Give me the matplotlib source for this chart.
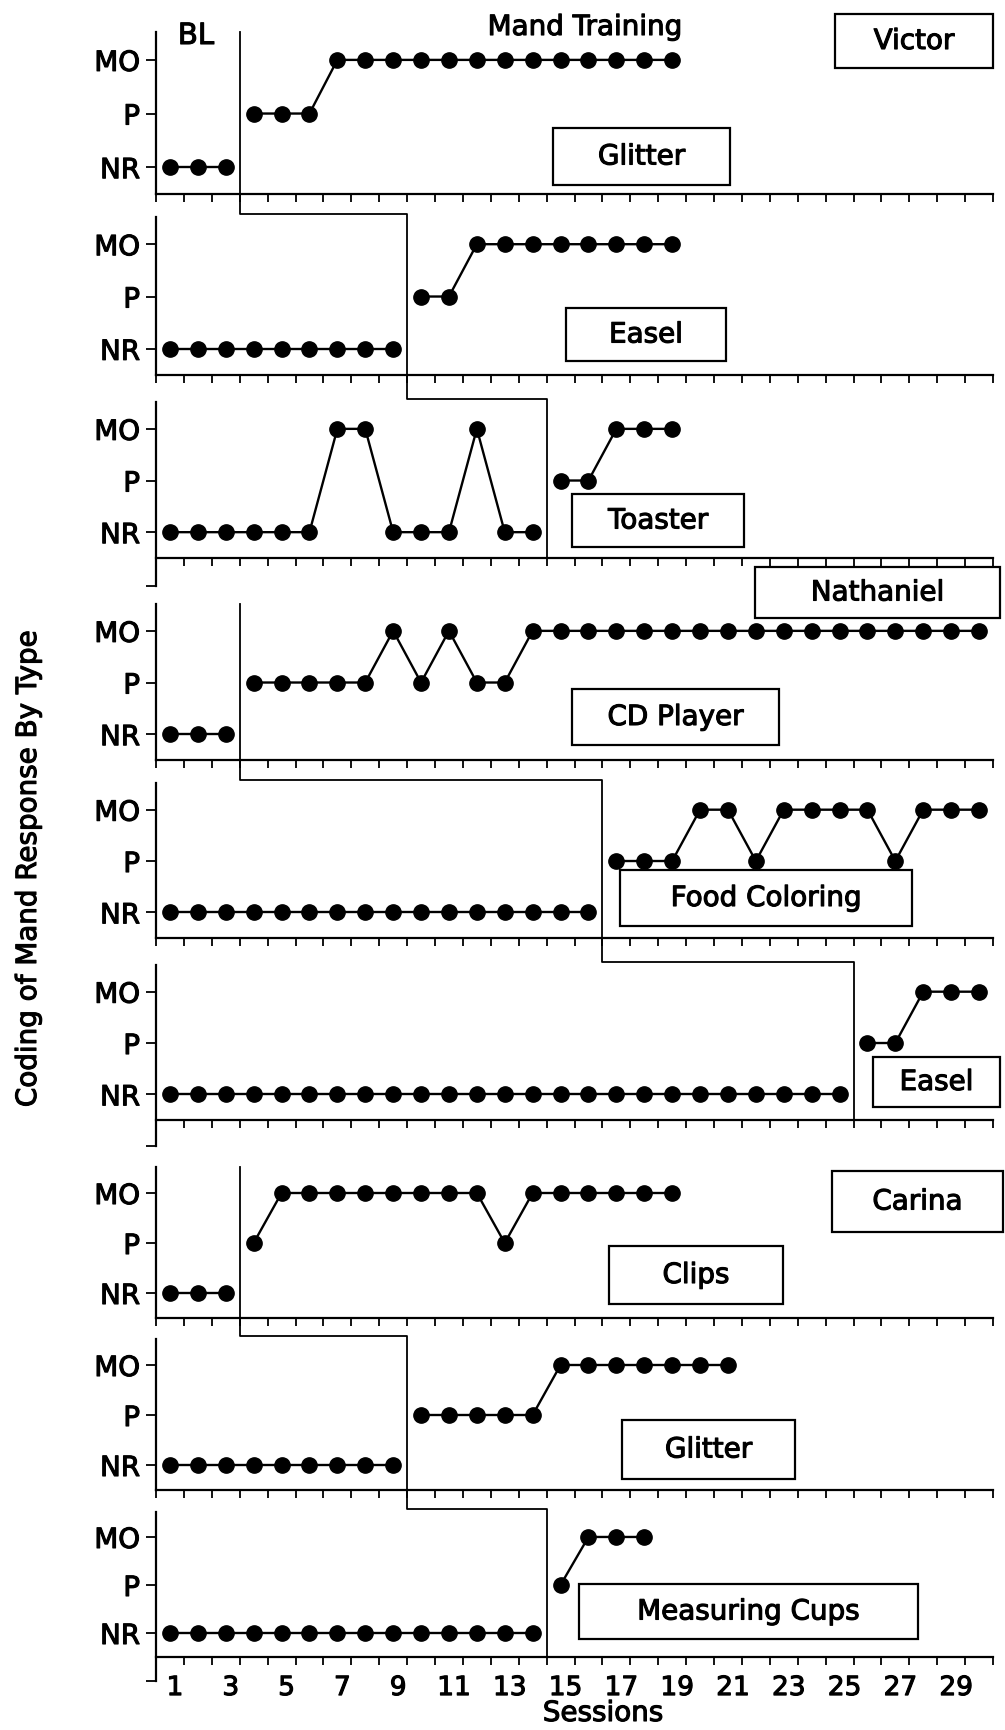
import numpy as np
import matplotlib
matplotlib.use('Agg')
import matplotlib.pyplot as plt
import matplotlib.transforms as mtransforms
import matplotlib.patheffects as pe
from matplotlib.lines import Line2D
from matplotlib.patches import Rectangle
from matplotlib.text import Text

# response codes: 0 = NR, 1 = P, 2 = MO
levels = ['NR', 'P', 'MO']

# Victor
victor_glitter = [0, 0, 0, 1, 1, 1, 2, 2, 2, 2, 2, 2, 2, 2, 2, 2, 2, 2, 2]
victor_easel = [0, 0, 0, 0, 0, 0, 0, 0, 0, 1, 1, 2, 2, 2, 2, 2, 2, 2, 2]
victor_toaster = [0, 0, 0, 0, 0, 0, 2, 2, 0, 0, 0, 2, 0, 0, 1, 1, 2, 2, 2]
# Nathaniel
nathaniel_cd = [0, 0, 0, 1, 1, 1, 1, 1, 2, 1, 2, 1, 1,
                2, 2, 2, 2, 2, 2, 2, 2, 2, 2, 2, 2, 2, 2, 2, 2, 2]
nathaniel_food = [0, 0, 0, 0, 0, 0, 0, 0, 0, 0, 0, 0, 0, 0, 0, 0,
                  1, 1, 1, 2, 2, 1, 2, 2, 2, 2, 1, 2, 2, 2]
nathaniel_easel = [0, 0, 0, 0, 0, 0, 0, 0, 0, 0, 0, 0, 0, 0, 0, 0, 0, 0, 0, 0, 0, 0, 0, 0, 0,
                   1, 1, 2, 2, 2]
# Carina
carina_clips = [0, 0, 0, 1, 2, 2, 2, 2, 2, 2, 2, 2, 1, 2, 2, 2, 2, 2, 2]
carina_glitter = [0, 0, 0, 0, 0, 0, 0, 0, 0, 1, 1, 1, 1, 1, 2, 2, 2, 2, 2, 2, 2]
carina_cups = [0, 0, 0, 0, 0, 0, 0, 0, 0, 0, 0, 0, 0, 0, 1, 2, 2, 2]

# phase change lines (between sessions)
phase_victor = [3.5, 9.5, 14.5]
phase_nathaniel = [3.5, 16.5, 25.5]
phase_carina = [3.5, 9.5, 14.5]

panels = [victor_glitter, victor_easel, victor_toaster,
          nathaniel_cd, nathaniel_food, nathaniel_easel,
          carina_clips, carina_glitter, carina_cups]
phases = phase_victor + phase_nathaniel + phase_carina

x_labels = [str(i) for i in range(1, 30, 2)]

box_labels = ['Victor', 'Glitter', 'Easel', 'Toaster', 'Nathaniel', 'CD Player',
              'Food Coloring', 'Easel', 'Carina', 'Clips', 'Glitter', 'Measuring Cups']

# ---- layout (pixels) ----
W, H = 1005, 1731
X0, X1 = 156, 993
# (top of axis line, x-axis, end of left axis)
layout = [(33, 195, 195), (218, 376, 376), (403, 559, 587),
          (605, 761, 761), (784, 939, 939), (966, 1121, 1147),
          (1168, 1319, 1319), (1340, 1491, 1491), (1513, 1658, 1682)]
# box extents x0, y0, x1, y1
box_pos = [(835, 15, 993, 69), (553, 129, 730, 186), (566, 309, 726, 362),
           (572, 495, 744, 548), (755, 568, 1000, 619), (572, 690, 779, 746),
           (620, 871, 912, 927), (873, 1058, 1000, 1108), (832, 1172, 1003, 1233),
           (609, 1247, 783, 1305), (622, 1421, 795, 1480), (579, 1585, 918, 1640)]
Y_LO, Y_HI = -0.5, 2.52

fig = plt.figure(figsize=(W / 100, H / 100), dpi=100)

axes = []
for i, (vals, pc) in enumerate(zip(panels, phases)):
    top, axis_y, end = layout[i]
    ax = fig.add_axes([X0 / W, 1 - end / H, (X1 - X0) / W, (end - top) / H])
    unit = (axis_y - top) / (Y_HI - Y_LO)
    y_bot = Y_LO - (end - axis_y) / unit
    ax.set_xlim(0.5, 30.5)
    ax.set_ylim(y_bot, Y_HI)
    for sp in ['top', 'right']:
        ax.spines[sp].set_visible(False)
    ax.spines['bottom'].set_position(('data', Y_LO))
    ax.spines['left'].set_linewidth(1.6)
    ax.spines['bottom'].set_linewidth(1.6)

    s = np.arange(1, len(vals) + 1)
    v = np.array(vals)
    for m in (s < pc, s > pc):
        ax.plot(s[m], v[m], '-o', color='black', lw=1.7, ms=11, clip_on=False)

    if end > axis_y:
        ax.set_yticks([y_bot, 0, 1, 2], ['', 'NR', 'P', 'MO'])
    else:
        ax.set_yticks([0, 1, 2], levels)
    ax.tick_params(axis='y', length=7.5, width=1.3, pad=4, labelsize=20)

    ax.set_xticks(np.arange(0.5, 31, 1))
    ax.set_xticklabels([])
    ax.tick_params(axis='x', which='major', length=6, width=1.3, direction='out')
    if i == len(panels) - 1:
        ax.set_xticks(np.arange(1, 30, 2), x_labels, minor=True)
        ax.tick_params(axis='x', which='minor', length=0, pad=13, labelsize=19)
        shift = mtransforms.ScaledTranslation(0.05, 0, fig.dpi_scale_trans)
        for lab in ax.get_xticklabels(minor=True):
            lab.set_transform(lab.get_transform() + shift)
    axes.append(ax)

# phase change step lines
for g in range(3):
    grp = axes[3 * g:3 * g + 3]
    pcs = phases[3 * g:3 * g + 3]
    tops = [a.get_position().y1 for a in grp]
    last_axis = 1 - layout[3 * g + 2][1] / H
    xs = [pcs[0], pcs[0], pcs[1], pcs[1], pcs[2], pcs[2]]
    ys = [tops[0] + 3 / H, tops[1] + 3 / H, tops[1] + 3 / H, tops[2] + 3 / H,
          tops[2] + 3 / H, last_axis]
    ys[0] = tops[0]
    trans = mtransforms.blended_transform_factory(grp[0].transData, fig.transFigure)
    fig.add_artist(Line2D(xs, ys, transform=trans, color='black', lw=1.3))

# labelled boxes
for lab, (bx0, by0, bx1, by1) in zip(box_labels, box_pos):
    fig.add_artist(Rectangle((bx0 / W, 1 - by1 / H), (bx1 - bx0) / W, (by1 - by0) / H,
                             transform=fig.transFigure, fill=False, lw=1.6, color='black'))
    fig.text((bx0 + bx1) / 2 / W, 1 - (by0 + by1) / 2 / H, lab,
             ha='center', va='center', fontsize=20)

fig.text(196 / W, 1 - 45 / H, 'BL', ha='center', va='baseline', fontsize=21)
fig.text(585 / W, 1 - 36 / H, 'Mand Training', ha='center', va='baseline', fontsize=20)
fig.text(28 / W, 1 - 870 / H, 'Coding of Mand Response By Type', rotation=90,
         ha='center', va='center', fontsize=20)
fig.text(603 / W, 1 - 1714 / H, 'Sessions', ha='center', va='center', fontsize=20)

# heavier strokes, like the scanned original
for t in fig.findobj(Text):
    t.set_path_effects([pe.withStroke(linewidth=0.8, foreground='black')])

fig.savefig('out.png', dpi=100)
